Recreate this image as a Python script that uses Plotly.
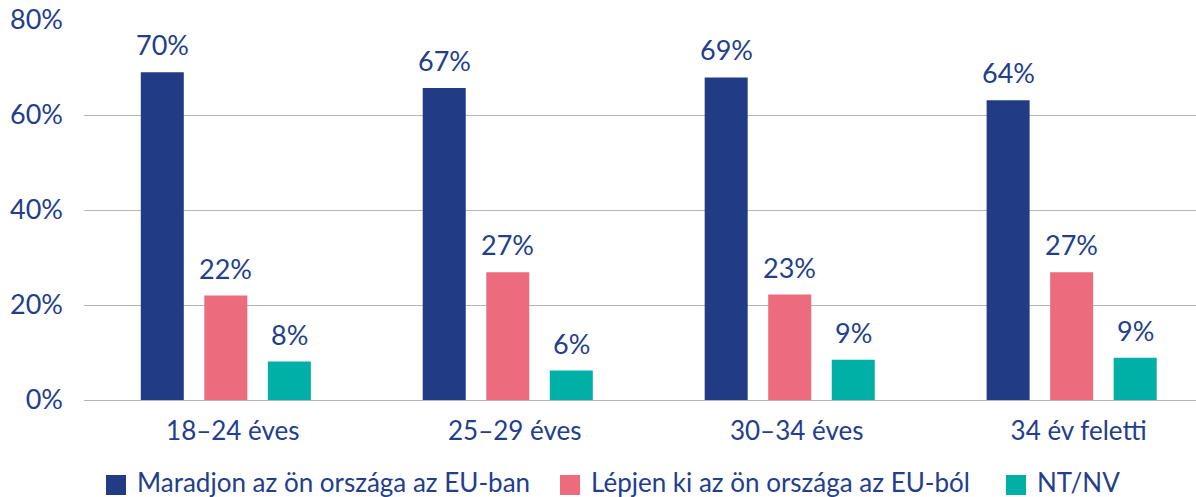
import plotly.graph_objects as go

categories = ["18–24 éves", "25–29 éves", "30–34 éves", "34 év feletti"]
series_names = ["Maradjon az ön országa az EU-ban", "Lépjen ki az ön országa az EU-ból", "NT/NV"]
stay_values = [69.0, 65.7, 67.9, 63.1]
leave_values = [22.0, 26.9, 22.2, 26.9]
dk_values = [8.1, 6.2, 8.5, 8.9]
stay_labels = ["70%", "67%", "69%", "64%"]
leave_labels = ["22%", "27%", "23%", "27%"]
dk_labels = ["8%", "6%", "9%", "9%"]
y_ticks = [0, 20, 40, 60, 80]
y_tick_labels = ["0%", "20%", "40%", "60%", "80%"]

colors = ["#213B85", "#EC6B7D", "#00B0A6"]
text_color = "#233E8B"
font_family = "Lato, 'Open Sans', sans-serif"

W, H = 1196, 497
ML, MR, MT, MB = 84, 0, 20, 97
PW, PH = W - ML - MR, H - MT - MB

series = [stay_values, leave_values, dk_values]
labels = [stay_labels, leave_labels, dk_labels]

fig = go.Figure()
for name, vals, col in zip(series_names, series, colors):
    fig.add_trace(go.Bar(x=categories, y=vals, name=name, marker_color=col,
                         marker_line_width=0, showlegend=False, hoverinfo="skip"))

offsets = [-63.5, 0, 63.5]
for vals, labs, off in zip(series, labels, offsets):
    for c, v, t in zip(categories, vals, labs):
        fig.add_annotation(x=c, y=v, text=t, showarrow=False, xshift=off,
                           yanchor="bottom", yshift=9,
                           font=dict(size=27, color=text_color, family=font_family))

# legend drawn manually (square swatches + text), positions in pixels
legend_square_left = [106, 560, 1006]
legend_text_left = [136, 590, 1036]
sq = 20
legend_cy = 485


def px_x(p):
    return (p - ML) / PW


def px_y(p):
    return (H - MB - p) / PH


for name, col, sx, tx in zip(series_names, colors, legend_square_left, legend_text_left):
    fig.add_shape(type="rect", xref="paper", yref="paper",
                  x0=px_x(sx), x1=px_x(sx + sq),
                  y0=px_y(legend_cy + sq / 2), y1=px_y(legend_cy - sq / 2),
                  fillcolor=col, line_width=0)
    fig.add_annotation(xref="paper", yref="paper", x=px_x(tx), y=px_y(legend_cy - 3.5),
                       xanchor="left", yanchor="middle", text=name, showarrow=False,
                       borderpad=0,
                       font=dict(size=26, color=text_color, family=font_family))

fig.update_layout(
    width=W, height=H,
    margin=dict(l=ML, r=MR, t=MT, b=MB),
    paper_bgcolor="white", plot_bgcolor="white",
    barmode="group", bargap=0.324, bargroupgap=0.323,
    font=dict(family=font_family, color=text_color),
    showlegend=False,
)
fig.update_xaxes(range=[-0.503, 3.441], showgrid=False, showline=False, zeroline=False,
                 ticks="", ticklabelstandoff=13, ticklabelshift=7,
                 tickfont=dict(size=26, color=text_color, family=font_family))
fig.update_yaxes(range=[0, 80], tickvals=y_ticks, ticktext=y_tick_labels,
                 showgrid=True, gridcolor="#B5B5B5", gridwidth=1,
                 zeroline=True, zerolinecolor="#B5B5B5", zerolinewidth=1,
                 showline=False, ticks="", ticklabelstandoff=20,
                 tickfont=dict(size=27, color=text_color, family=font_family))

fig.write_html("out.html", config={"displayModeBar": False},
               post_script="document.body.style.margin='0';")
